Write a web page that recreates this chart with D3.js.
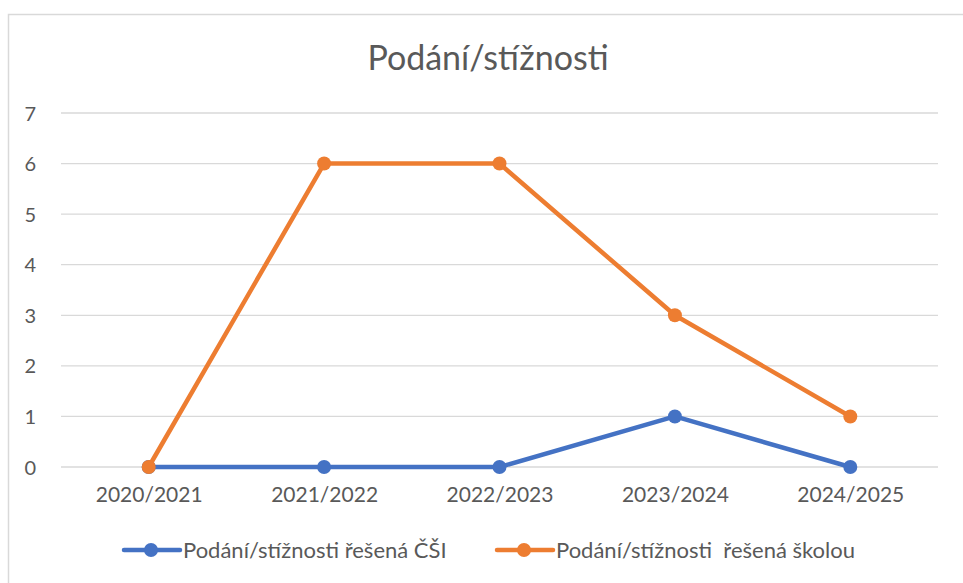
<!DOCTYPE html>
<html>
<head>
  <meta charset="utf-8">
  <script src="https://cdnjs.cloudflare.com/ajax/libs/d3/7.8.5/d3.min.js"></script>
  <style>
    body { margin: 0; background: #fff; }
    svg text { font-family: Lato, "Open Sans", sans-serif; fill: #595959; }
  </style>
</head>
<body>
  <svg></svg>
  <script>
    // data
    var years = ["2020/2021", "2021/2022", "2022/2023", "2023/2024", "2024/2025"];
    var seriesNames = ["Podání/stížnosti řešená ČŠI", "Podání/stížnosti  řešená školou"];
    var csiValues = [0, 0, 0, 1, 0];
    var skolaValues = [0, 6, 6, 3, 1];
    var yTicks = [0, 1, 2, 3, 4, 5, 6, 7];
    var colors = ["#4472C4", "#ED7D31"];

    var W = 963, H = 583;
    var svg = d3.select("svg").attr("width", W).attr("height", H);

    // chart border (cut off at right/bottom like the source)
    svg.append("rect")
      .attr("x", 8.5).attr("y", 14.5)
      .attr("width", W).attr("height", H)
      .attr("fill", "none").attr("stroke", "#d9d9d9").attr("stroke-width", 1.5);

    var margin = { left: 61, right: 25, top: 113, bottom: 116 };
    var width = W - margin.left - margin.right;
    var height = H - margin.top - margin.bottom;

    var x = d3.scalePoint().domain(years).range([0, width]).padding(0.5);
    var y = d3.scaleLinear().domain([0, 7]).range([height, 0]);

    var g = svg.append("g").attr("transform", "translate(" + margin.left + "," + margin.top + ")");

    // title
    svg.append("text")
      .attr("x", 488).attr("y", 70)
      .attr("text-anchor", "middle")
      .style("font-size", "34px")
      .text("Podání/stížnosti");

    // gridlines
    g.selectAll(".grid").data(yTicks).enter().append("line")
      .attr("x1", 0).attr("x2", width)
      .attr("y1", function(d) { return y(d); })
      .attr("y2", function(d) { return y(d); })
      .attr("stroke", "#d9d9d9").attr("stroke-width", 1.3);

    // y axis labels
    var yAxis = d3.axisLeft(y).tickValues(yTicks).tickFormat(d3.format("d")).tickSize(0).tickPadding(25);
    var ya = g.append("g").call(yAxis);
    ya.select(".domain").remove();
    ya.selectAll("text").style("font-size", "20px").attr("dy", "0.35em");

    // x axis labels
    var xAxis = d3.axisBottom(x).tickSize(0).tickPadding(20);
    var xa = g.append("g").attr("transform", "translate(0," + height + ")").call(xAxis);
    xa.select(".domain").remove();
    xa.selectAll("text").style("font-size", "21px");

    var series = [csiValues, skolaValues];
    var line = d3.line()
      .x(function(d, i) { return x(years[i]); })
      .y(function(d) { return y(d); });

    series.forEach(function(vals, s) {
      g.append("path")
        .datum(vals)
        .attr("d", line)
        .attr("fill", "none")
        .attr("stroke", colors[s])
        .attr("stroke-width", 4.5)
        .attr("stroke-linejoin", "round")
        .attr("stroke-linecap", "round");
      g.selectAll(".pt" + s).data(vals).enter().append("circle")
        .attr("cx", function(d, i) { return x(years[i]); })
        .attr("cy", function(d) { return y(d); })
        .attr("r", 7)
        .attr("fill", colors[s]);
    });

    // legend
    var legendX = [124, 497];
    var legend = svg.append("g").attr("transform", "translate(0,550)");
    seriesNames.forEach(function(name, s) {
      var lg = legend.append("g").attr("transform", "translate(" + legendX[s] + ",0)");
      lg.append("line").attr("x1", 0).attr("x2", 56).attr("y1", 0).attr("y2", 0)
        .attr("stroke", colors[s]).attr("stroke-width", 4.5).attr("stroke-linecap", "round");
      lg.append("circle").attr("cx", 27).attr("cy", 0).attr("r", 7).attr("fill", colors[s]);
      lg.append("text").attr("x", 59).attr("y", 0).attr("dy", "0.35em")
        .attr("xml:space", "preserve").style("white-space", "pre")
        .style("font-size", "22px").text(name);
    });
  </script>
</body>
</html>
